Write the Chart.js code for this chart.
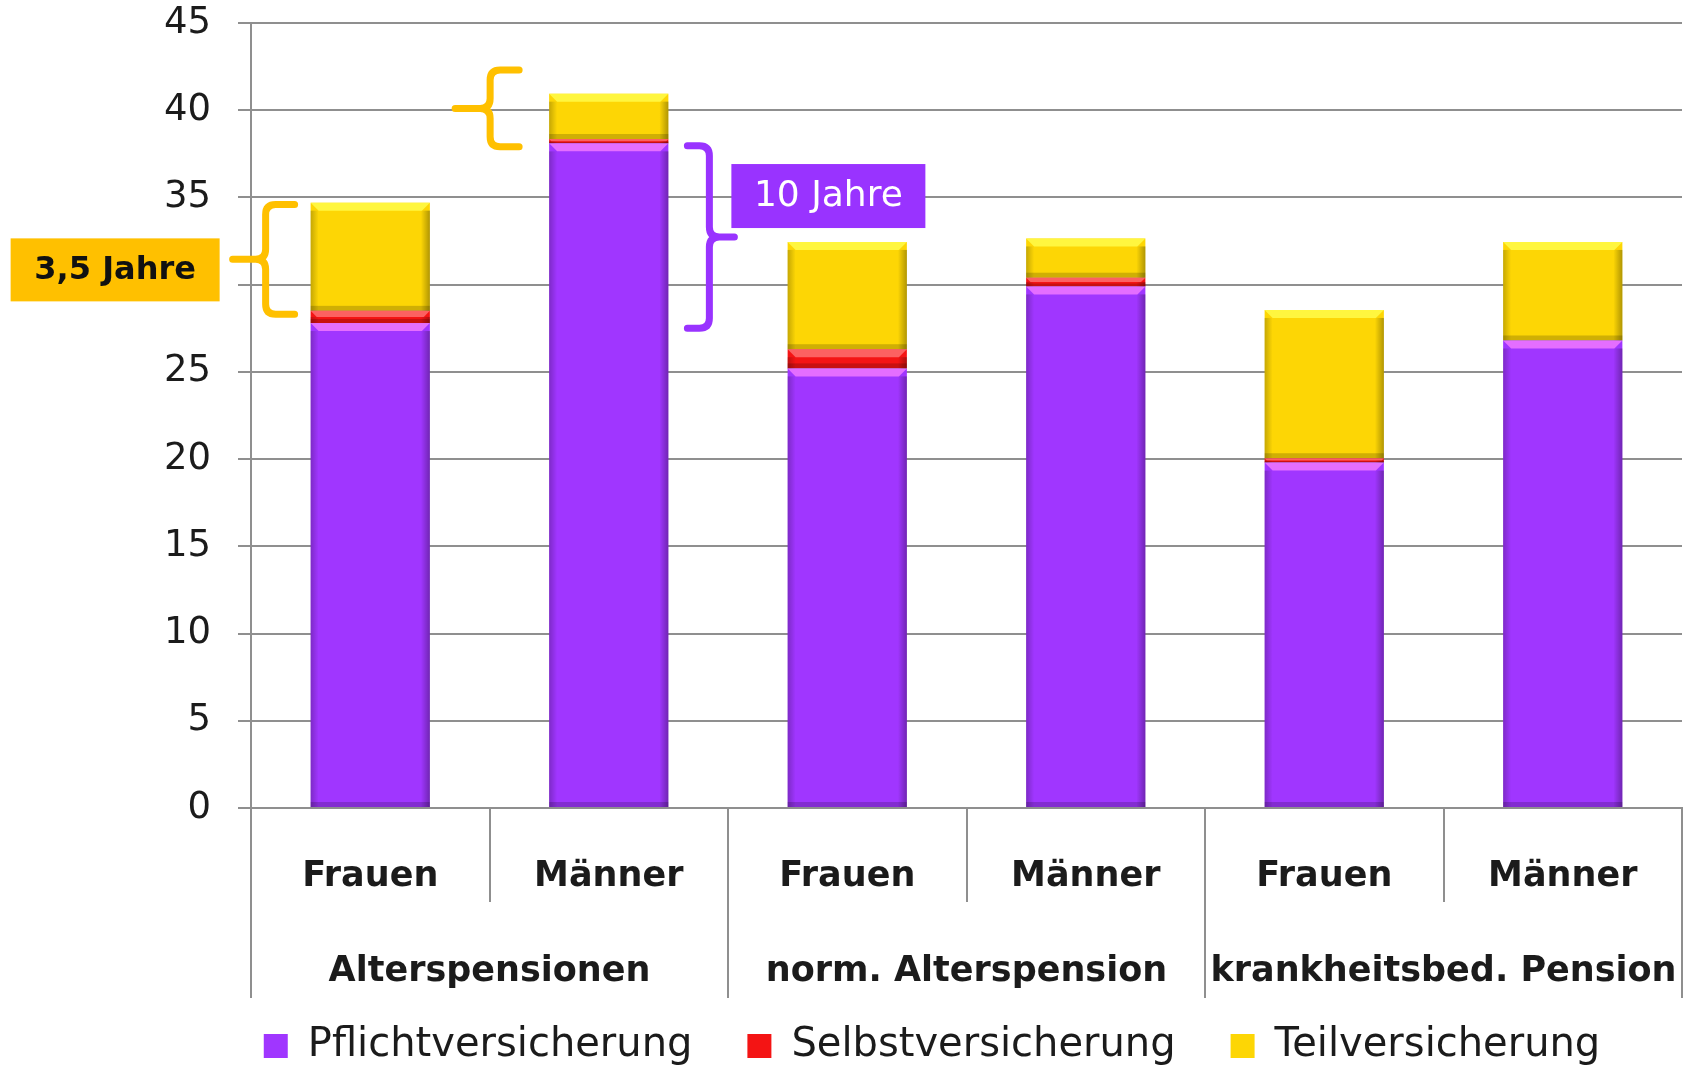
<!DOCTYPE html>
<html>
<head>
<meta charset="utf-8">
<script src="https://cdn.jsdelivr.net/npm/chart.js@4.4.1/dist/chart.umd.min.js"></script>
<style>
  html, body { margin: 0; padding: 0; background: #fff; }
  #wrap { width: 1687px; height: 1071px; position: relative; }
</style>
</head>
<body>
<div id="wrap"><canvas id="chart"></canvas></div>
<script>
const categories = ["Frauen", "Männer", "Frauen", "Männer", "Frauen", "Männer"];
const groups = ["Alterspensionen", "norm. Alterspension", "krankheitsbed. Pension"];
const pflicht = [27.8, 38.1, 25.2, 29.9, 19.8, 26.8];
const selbst = [0.7, 0.25, 1.1, 0.5, 0.25, 0];
const teil = [6.2, 2.6, 6.15, 2.25, 8.5, 5.65];

// value ranges the braces span (from, to)
const braceFrauen = [28.3, 34.6];
const braceMaenner = [37.9, 42.3];
const braceDiff = [27.5, 37.96];

const FONT = "'DejaVu Sans', sans-serif";
const GRID = "#8f8f8f";
const TEXT = "#1b1b1b";
const ORANGE = "#FFC000";
const VIOLET = "#9933FF";

const highlight = ["rgba(240,120,255,0.85)", "rgba(255,130,130,0.7)", "rgba(255,250,70,0.9)"];

// bevel look on each bar
const bevelPlugin = {
  id: "bevel",
  afterDatasetsDraw(chart) {
    const ctx = chart.ctx;
    chart.data.datasets.forEach((ds, di) => {
      const meta = chart.getDatasetMeta(di);
      meta.data.forEach(bar => {
        const left = bar.x - bar.width / 2;
        const right = bar.x + bar.width / 2;
        const top = Math.min(bar.y, bar.base);
        const bottom = Math.max(bar.y, bar.base);
        const h = bottom - top;
        if (h < 1) return;
        const e = Math.min(8, h / 2);
        ctx.save();
        ctx.fillStyle = highlight[di];
        ctx.beginPath();
        ctx.moveTo(left, top);
        ctx.lineTo(right, top);
        ctx.lineTo(right - e, top + e);
        ctx.lineTo(left + e, top + e);
        ctx.closePath();
        ctx.fill();
        let g = ctx.createLinearGradient(left, 0, left + 8, 0);
        g.addColorStop(0, "rgba(0,0,0,0.22)");
        g.addColorStop(1, "rgba(0,0,0,0)");
        ctx.fillStyle = g;
        ctx.fillRect(left, top + e, 8, h - e);
        g = ctx.createLinearGradient(right - 9, 0, right, 0);
        g.addColorStop(0, "rgba(0,0,0,0)");
        g.addColorStop(1, "rgba(0,0,0,0.3)");
        ctx.fillStyle = g;
        ctx.fillRect(right - 9, top + e, 9, h - e);
        const b = Math.min(5, h / 3);
        ctx.fillStyle = "rgba(0,0,0,0.18)";
        ctx.fillRect(left, bottom - b, bar.width, b);
        ctx.restore();
      });
    });
  }
};

function drawBrace(ctx, xArm, xStem, xTip, yTop, yBottom, color) {
  const yMid = (yTop + yBottom) / 2;
  const dir = Math.sign(xArm - xStem);
  const r = 10;
  ctx.save();
  ctx.strokeStyle = color;
  ctx.lineWidth = 7;
  ctx.lineCap = "round";
  ctx.lineJoin = "round";
  ctx.beginPath();
  ctx.moveTo(xArm, yTop);
  ctx.lineTo(xStem + dir * r, yTop);
  ctx.quadraticCurveTo(xStem, yTop, xStem, yTop + r);
  ctx.lineTo(xStem, yMid - r);
  ctx.quadraticCurveTo(xStem, yMid, xStem - dir * r, yMid);
  ctx.lineTo(xTip, yMid);
  ctx.moveTo(xStem - dir * r, yMid);
  ctx.quadraticCurveTo(xStem, yMid, xStem, yMid + r);
  ctx.lineTo(xStem, yBottom - r);
  ctx.quadraticCurveTo(xStem, yBottom, xStem + dir * r, yBottom);
  ctx.lineTo(xArm, yBottom);
  ctx.stroke();
  ctx.restore();
  return yMid;
}

function drawLabelBox(ctx, x, y, w, h, fill, text, color, font) {
  ctx.save();
  ctx.fillStyle = fill;
  ctx.fillRect(x, y, w, h);
  ctx.fillStyle = color;
  ctx.font = font;
  ctx.textAlign = "center";
  ctx.textBaseline = "middle";
  ctx.fillText(text, x + w / 2, y + h / 2 + 1);
  ctx.restore();
}

const annotationPlugin = {
  id: "braces",
  afterDraw(chart) {
    const ctx = chart.ctx;
    const y = chart.scales.y;
    const bars = chart.getDatasetMeta(0).data;

    const b1Left = bars[0].x - bars[0].width / 2;
    const mid1 = drawBrace(ctx, b1Left - 16, b1Left - 45, b1Left - 78,
      y.getPixelForValue(braceFrauen[1]), y.getPixelForValue(braceFrauen[0]), ORANGE);
    const boxRight = b1Left - 91;
    drawLabelBox(ctx, boxRight - 209, mid1 + 10 - 31, 209, 63, ORANGE,
      "3,5 Jahre", "#111", "bold 32px " + FONT);

    const b2Left = bars[1].x - bars[1].width / 2;
    drawBrace(ctx, b2Left - 30, b2Left - 59, b2Left - 94,
      y.getPixelForValue(braceMaenner[1]), y.getPixelForValue(braceMaenner[0]), ORANGE);

    const b2Right = bars[1].x + bars[1].width / 2;
    const mid3 = drawBrace(ctx, b2Right + 19, b2Right + 41, b2Right + 66,
      y.getPixelForValue(braceDiff[1]), y.getPixelForValue(braceDiff[0]), VIOLET);
    drawLabelBox(ctx, b2Right + 63, mid3 - 41 - 32, 194, 64, VIOLET,
      "10 Jahre", "#fff", "36px " + FONT);
  }
};

// the legend sits a little right of the page centre and closer to the axis labels
const legendShift = {
  id: "legendShift",
  afterLayout(chart) {
    const l = chart.legend;
    if (!l) return;
    l.left += 16;
    l.right += 16;
    l.top -= 19;
    l.bottom -= 19;
  }
};

const ctx = document.getElementById("chart").getContext("2d");
new Chart(ctx, {
  type: "bar",
  data: {
    labels: categories,
    datasets: [
      { label: "Pflichtversicherung", data: pflicht, backgroundColor: "#A036FF" },
      { label: "Selbstversicherung", data: selbst, backgroundColor: "#F41414" },
      { label: "Teilversicherung", data: teil, backgroundColor: "#FDD605" }
    ]
  },
  options: {
    responsive: true,
    maintainAspectRatio: false,
    animation: false,
    layout: { padding: { left: 150, right: 5, top: 0, bottom: -24 } },
    datasets: {
      bar: { categoryPercentage: 1, barPercentage: 0.5, borderWidth: 0 }
    },
    plugins: {
      tooltip: { enabled: false },
      legend: {
        position: "bottom",
        labels: {
          color: TEXT,
          font: { family: FONT, size: 40 },
          boxWidth: 24,
          boxHeight: 24,
          padding: 55
        }
      }
    },
    scales: {
      x: {
        stacked: true,
        weight: 0,
        grid: { offset: true, drawOnChartArea: false, color: GRID, lineWidth: 2, tickLength: 94 },
        border: { color: GRID, width: 2 },
        ticks: {
          color: TEXT, padding: -46, autoSkip: false, minRotation: 0, maxRotation: 0,
          font: { family: FONT, size: 35, weight: "bold" }
        },
        afterFit: s => { s.height = 83; }
      },
      x2: {
        type: "category",
        position: "bottom",
        labels: groups,
        offset: true,
        weight: 1,
        grid: { offset: true, drawOnChartArea: false, color: GRID, lineWidth: 2, tickLength: 107 },
        border: { display: false },
        ticks: {
          color: TEXT, padding: -47, autoSkip: false, minRotation: 0, maxRotation: 0,
          font: { family: FONT, size: 35, weight: "bold" }
        },
        afterFit: s => { s.height = 99; }
      },
      y: {
        stacked: true,
        min: 0,
        max: 45,
        ticks: { stepSize: 5, color: TEXT, padding: 27, font: { family: FONT, size: 37 } },
        grid: { color: GRID, lineWidth: 2, tickLength: 13 },
        border: { color: GRID, width: 2 },
        afterFit: s => { s.width = 101; s.paddingTop = 23; }
      }
    }
  },
  plugins: [bevelPlugin, annotationPlugin, legendShift]
});
</script>
</body>
</html>
